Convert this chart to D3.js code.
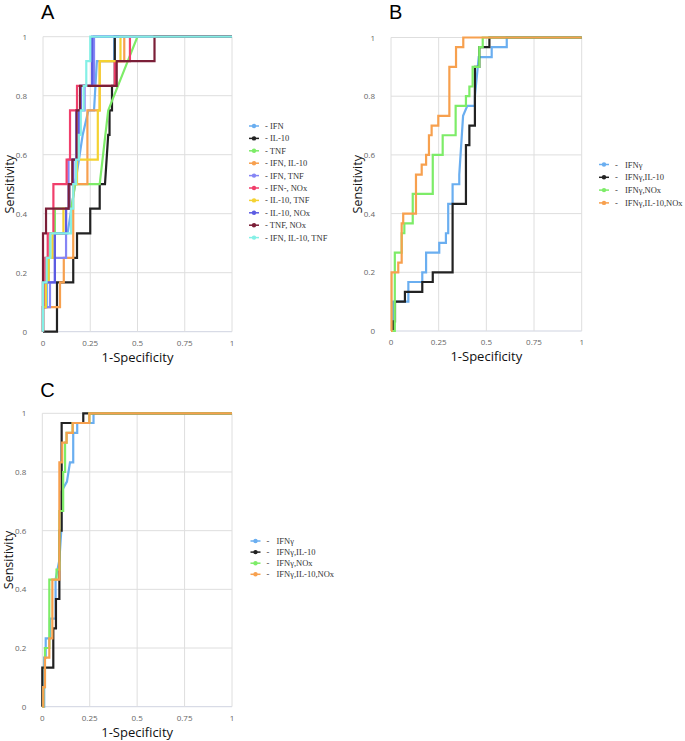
<!DOCTYPE html>
<html><head><meta charset="utf-8">
<script src="https://cdn.jsdelivr.net/npm/d3@7"></script>
<style>body{margin:0;background:#fff}</style>
</head><body>
<script>
// ---------- DATA ----------
const xTicks = [0, 0.25, 0.5, 0.75, 1];
const xTickLabels = ["0", "0.25", "0.5", "0.75", "1"];
const yTicks = [0, 0.2, 0.4, 0.6, 0.8, 1];
const yTickLabels = ["0", "0.2", "0.4", "0.6", "0.8", "1"];

// Panel A
const namesA = ["- IFN", "- IL-10", "- TNF", "- IFN, IL-10", "- IFN, TNF", "- IFN-, NOx", "- IL-10, TNF", "- IL-10, NOx", "- TNF, NOx", "- IFN, IL-10, TNF"];
const colorsA = ["#6aaef0", "#222222", "#7dec68", "#f7a04e", "#8585f5", "#f03f6b", "#f4d232", "#5c5ce2", "#7b1f38", "#84f0e6"];
const A_IFN = [[0,0],[0,0.083],[0.02,0.083],[0.02,0.167],[0.03,0.167],[0.03,0.25],[0.06,0.25],[0.06,0.333],[0.13,0.333],[0.15,0.417],[0.17,0.5],[0.19,0.583],[0.21,0.667],[0.24,0.75],[0.27,0.75],[0.285,0.917],[0.377,0.917],[0.377,1],[1,1]];
const A_IL10 = [[0,0],[0.074,0],[0.074,0.167],[0.16,0.167],[0.16,0.25],[0.18,0.25],[0.18,0.333],[0.25,0.333],[0.25,0.417],[0.3,0.417],[0.3,0.5],[0.328,0.5],[0.345,0.667],[0.352,0.667],[0.352,0.75],[0.365,0.75],[0.365,0.833],[0.38,0.833],[0.38,1],[1,1]];
const A_TNF = [[0,0],[0,0.167],[0.02,0.167],[0.02,0.25],[0.037,0.25],[0.037,0.333],[0.063,0.333],[0.063,0.417],[0.15,0.417],[0.17,0.5],[0.3,0.5],[0.33,0.667],[0.345,0.75],[0.5,1],[1,1]];
const A_IFN_IL10 = [[0,0],[0,0.083],[0.09,0.083],[0.09,0.167],[0.11,0.167],[0.11,0.25],[0.16,0.25],[0.16,0.5],[0.235,0.5],[0.235,0.75],[0.3,0.75],[0.3,0.917],[0.43,0.917],[0.43,1],[1,1]];
const A_IFN_TNF = [[0,0],[0,0.083],[0.037,0.083],[0.037,0.167],[0.063,0.167],[0.063,0.25],[0.122,0.25],[0.122,0.417],[0.135,0.417],[0.135,0.583],[0.175,0.583],[0.175,0.75],[0.22,0.75],[0.22,0.833],[0.27,0.833],[0.27,1],[1,1]];
const A_IFNm_NOx = [[0,0],[0,0.083],[0.012,0.083],[0.012,0.25],[0.025,0.25],[0.025,0.333],[0.055,0.333],[0.055,0.5],[0.125,0.5],[0.125,0.583],[0.143,0.583],[0.143,0.75],[0.18,0.75],[0.18,0.833],[0.38,0.833],[0.38,0.917],[0.46,0.917],[0.46,1],[1,1]];
const A_IL10_TNF = [[0,0],[0,0.083],[0.015,0.083],[0.015,0.167],[0.03,0.167],[0.03,0.25],[0.05,0.25],[0.05,0.333],[0.108,0.333],[0.108,0.417],[0.14,0.417],[0.14,0.5],[0.18,0.5],[0.18,0.583],[0.29,0.583],[0.29,0.75],[0.3,0.75],[0.3,0.917],[0.41,0.917],[0.41,1],[1,1]];
const A_IL10_NOx = [[0,0],[0,0.167],[0.063,0.167],[0.063,0.333],[0.122,0.333],[0.122,0.417],[0.14,0.417],[0.14,0.5],[0.16,0.5],[0.16,0.583],[0.19,0.583],[0.19,0.75],[0.2,0.75],[0.2,0.833],[0.26,0.833],[0.26,1],[1,1]];
const A_TNF_NOx = [[0,0],[0,0.333],[0.016,0.333],[0.016,0.417],[0.136,0.417],[0.136,0.5],[0.155,0.5],[0.155,0.583],[0.178,0.583],[0.178,0.75],[0.196,0.75],[0.196,0.833],[0.39,0.833],[0.39,0.917],[0.59,0.917],[0.59,1],[1,1]];
const A_IFN_IL10_TNF = [[0,0],[0,0.167],[0.019,0.167],[0.019,0.25],[0.039,0.25],[0.039,0.333],[0.148,0.333],[0.148,0.417],[0.16,0.417],[0.16,0.5],[0.175,0.5],[0.175,0.583],[0.19,0.583],[0.19,0.667],[0.2,0.667],[0.2,0.75],[0.215,0.75],[0.215,0.833],[0.229,0.833],[0.229,0.917],[0.25,0.917],[0.25,1],[1,1]];
const seriesA = [A_IFN, A_IL10, A_TNF, A_IFN_IL10, A_IFN_TNF, A_IFNm_NOx, A_IL10_TNF, A_IL10_NOx, A_TNF_NOx, A_IFN_IL10_TNF];

// Panel B
const namesBC = ["IFNγ", "IFNγ,IL-10", "IFNγ,NOx", "IFNγ,IL-10,NOx"];
const colorsBC = ["#6aaef0", "#222222", "#7dec68", "#f7a04e"];
const B_IFNg = [[0,0],[0.01,0],[0.01,0.1],[0.091,0.1],[0.091,0.167],[0.164,0.167],[0.164,0.2],[0.184,0.2],[0.184,0.267],[0.253,0.267],[0.253,0.3],[0.288,0.3],[0.288,0.333],[0.3,0.333],[0.3,0.433],[0.323,0.433],[0.323,0.5],[0.358,0.5],[0.358,0.533],[0.378,0.733],[0.4,0.767],[0.44,0.767],[0.44,0.8],[0.46,0.933],[0.528,0.933],[0.528,0.967],[0.607,0.967],[0.607,1],[1,1]];
const B_IFNg_IL10 = [[0,0],[0.012,0],[0.012,0.033],[0.021,0.033],[0.021,0.1],[0.073,0.1],[0.073,0.133],[0.164,0.133],[0.164,0.167],[0.219,0.167],[0.219,0.2],[0.323,0.2],[0.323,0.433],[0.393,0.433],[0.393,0.633],[0.411,0.633],[0.411,0.7],[0.44,0.7],[0.44,0.9],[0.463,0.9],[0.463,0.967],[0.516,0.967],[0.516,1],[1,1]];
const B_IFNg_NOx = [[0,0],[0.02,0],[0.02,0.267],[0.056,0.267],[0.056,0.333],[0.07,0.333],[0.07,0.367],[0.114,0.367],[0.114,0.467],[0.219,0.467],[0.219,0.6],[0.271,0.6],[0.271,0.667],[0.339,0.667],[0.339,0.767],[0.393,0.767],[0.393,0.8],[0.411,0.8],[0.411,0.833],[0.428,0.833],[0.428,0.9],[0.463,0.9],[0.463,0.967],[0.481,0.967],[0.481,1],[1,1]];
const B_IFNg_IL10_NOx = [[0,0],[0.003,0],[0.003,0.2],[0.038,0.2],[0.038,0.233],[0.056,0.233],[0.056,0.367],[0.064,0.367],[0.064,0.4],[0.131,0.4],[0.131,0.533],[0.161,0.533],[0.161,0.567],[0.184,0.567],[0.184,0.6],[0.199,0.6],[0.199,0.667],[0.213,0.667],[0.213,0.7],[0.248,0.7],[0.248,0.733],[0.306,0.733],[0.306,0.9],[0.341,0.9],[0.341,0.967],[0.379,0.967],[0.379,1],[1,1]];
const seriesB = [B_IFNg, B_IFNg_IL10, B_IFNg_NOx, B_IFNg_IL10_NOx];

// Panel C
const C_IFNg = [[0,0],[0.01,0],[0.01,0.167],[0.018,0.167],[0.018,0.233],[0.04,0.233],[0.04,0.3],[0.07,0.3],[0.07,0.433],[0.09,0.5],[0.1,0.6],[0.1,0.733],[0.13,0.767],[0.146,0.833],[0.163,0.833],[0.163,0.933],[0.184,0.933],[0.184,0.967],[0.27,0.967],[0.27,1],[1,1]];
const C_IFNg_IL10 = [[0,0],[0,0.133],[0.058,0.133],[0.058,0.267],[0.072,0.267],[0.072,0.367],[0.09,0.367],[0.09,0.6],[0.102,0.6],[0.102,0.967],[0.216,0.967],[0.216,1],[1,1]];
const C_IFNg_NOx = [[0,0],[0.005,0],[0.005,0.067],[0.014,0.067],[0.014,0.2],[0.037,0.2],[0.037,0.433],[0.075,0.433],[0.075,0.467],[0.09,0.467],[0.09,0.667],[0.11,0.667],[0.11,0.8],[0.12,0.8],[0.12,0.9],[0.128,0.9],[0.128,0.933],[0.16,0.933],[0.16,0.967],[0.248,0.967],[0.248,1],[1,1]];
const C_IFNg_IL10_NOx = [[0,0],[0.005,0],[0.005,0.067],[0.014,0.067],[0.014,0.167],[0.037,0.167],[0.037,0.233],[0.053,0.233],[0.053,0.433],[0.09,0.433],[0.09,0.833],[0.105,0.833],[0.105,0.9],[0.128,0.9],[0.128,0.933],[0.16,0.933],[0.16,0.967],[0.248,0.967],[0.248,1],[1,1]];
const seriesC = [C_IFNg, C_IFNg_IL10, C_IFNg_NOx, C_IFNg_IL10_NOx];

// ---------- DRAW ----------
const svg = d3.select("body").append("svg").attr("width", 685).attr("height", 741);

function panel(opt) {
  const x = d3.scaleLinear().domain([0, 1]).range([opt.x0, opt.x1]);
  const y = d3.scaleLinear().domain([0, 1]).range([opt.y0, opt.y1]);
  const g = svg.append("g");
  // grid
  g.selectAll(".hg").data(yTicks).enter().append("line")
    .attr("x1", x(0)).attr("x2", x(1)).attr("y1", d => y(d)).attr("y2", d => y(d))
    .attr("stroke", d => d === 0 ? "#cfd3e0" : "#dedede").attr("stroke-width", 1);
  g.selectAll(".vg").data(xTicks).enter().append("line")
    .attr("x1", d => x(d)).attr("x2", d => x(d)).attr("y1", y(0)).attr("y2", y(1))
    .attr("stroke", "#dedede").attr("stroke-width", 1);
  // tick labels
  g.selectAll(".yl").data(yTicks).enter().append("text")
    .attr("x", opt.x0 - 16).attr("y", d => y(d) + 3)
    .attr("text-anchor", "end").attr("font-family", "Open Sans, sans-serif")
    .attr("font-size", 8).attr("fill", "#666").text((d, i) => yTickLabels[i]);
  g.selectAll(".xl").data(xTicks).enter().append("text")
    .attr("x", d => x(d)).attr("y", y(0) + 14)
    .attr("text-anchor", "middle").attr("font-family", "Open Sans, sans-serif")
    .attr("font-size", 8).attr("fill", "#666").text((d, i) => xTickLabels[i]);
  // axis titles
  g.append("text").attr("transform", `translate(${opt.x0 - 29},${(y(0) + y(1)) / 2}) rotate(-90)`)
    .attr("text-anchor", "middle").attr("font-family", "Open Sans, sans-serif")
    .attr("font-size", 12.5).attr("fill", "#111").text("Sensitivity");
  g.append("text").attr("x", (x(0) + x(1)) / 2).attr("y", y(0) + 30)
    .attr("text-anchor", "middle").attr("font-family", "Open Sans, sans-serif")
    .attr("font-size", 13).attr("fill", "#111").text("1-Specificity");
  // panel letter
  g.append("text").attr("x", opt.x0 - 2).attr("y", opt.letterY)
    .attr("font-family", "Liberation Sans, Arial, sans-serif").attr("font-size", 20)
    .attr("fill", "#000").text(opt.letter);
  // lines
  const line = d3.line().x(d => x(d[0])).y(d => y(d[1]));
  opt.series.forEach((s, i) => {
    g.append("path").attr("d", line(s)).attr("fill", "none")
      .attr("stroke", opt.colors[i]).attr("stroke-width", 2.2).attr("stroke-linejoin", "miter");
  });
  // legend
  opt.names.forEach((n, i) => {
    const ly = opt.legY + i * opt.legStep;
    g.append("line").attr("x1", opt.legX).attr("x2", opt.legX + 10).attr("y1", ly).attr("y2", ly)
      .attr("stroke", opt.colors[i]).attr("stroke-width", 1.5);
    g.append("circle").attr("cx", opt.legX + 5).attr("cy", ly).attr("r", 2.2).attr("fill", opt.colors[i]);
    if (opt.dash) {
      g.append("text").attr("x", opt.legX + 16).attr("y", ly + 3)
        .attr("font-family", "Liberation Serif, serif").attr("font-size", 8.5).attr("fill", "#333").text("-");
    }
    g.append("text").attr("x", opt.legX + opt.textOff).attr("y", ly + 3)
      .attr("font-family", "Liberation Serif, serif").attr("font-size", 8.5).attr("fill", "#333").text(n);
  });
}

panel({x0: 43, x1: 232, y0: 331.7, y1: 36.7, letter: "A", letterY: 19,
  series: seriesA, colors: colorsA, names: namesA, legX: 249, legY: 126, legStep: 12.4, textOff: 16, dash: false});
panel({x0: 391, x1: 581.7, y0: 331, y1: 37.5, letter: "B", letterY: 19,
  series: seriesB, colors: colorsBC, names: namesBC, legX: 599, legY: 164.5, legStep: 12.8, textOff: 26, dash: true});
panel({x0: 42.3, x1: 232, y0: 706.7, y1: 413.3, letter: "C", letterY: 397,
  series: seriesC, colors: colorsBC, names: namesBC, legX: 250.5, legY: 541, legStep: 11.1, textOff: 26, dash: true});
</script>
</body></html>
